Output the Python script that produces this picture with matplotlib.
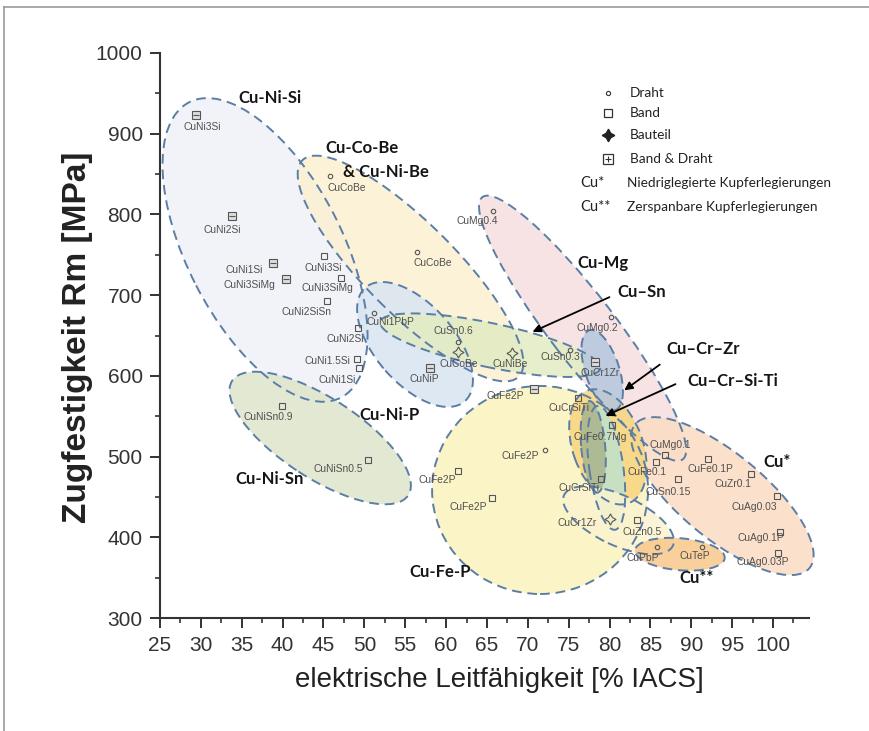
import matplotlib
matplotlib.use("Agg")
import matplotlib.pyplot as plt
from matplotlib.patches import Ellipse
from matplotlib.lines import Line2D
from matplotlib.transforms import ScaledTranslation
import numpy as np

# --- alloy data: conductivity [% IACS], tensile strength [MPa], product form ---
alloys = ["CuNi3Si", "CuNi2Si", "CuNi1Si", "CuNi3SiMg", "CuNi3Si", "CuNi3SiMg",
          "CuNi2SiSn", "CuNi2Si", "CuNi1.5Si", "CuNi1Si", "CuNiSn0.9", "CuNiSn0.5",
          "CuCoBe", "CuCoBe", "CuNi1PbP", "CuNiP", "CuSn0.6", "CuCoBe", "CuNiBe",
          "CuMg0.4", "CuSn0.3", "CuCr1Zr", "CuMg0.2", "CuFe2P", "CuCrSiTi",
          "CuFe0.7Mg", "CuFe2P", "CuFe2P", "CuFe2P", "CuCrSiTi", "CuCr1Zr",
          "CuZn0.5", "CuFe0.1", "CuMg0.1", "CuSn0.15", "CuFe0.1P", "CuZr0.1",
          "CuAg0.03", "CuAg0.1P", "CuAg0.03P", "CuPbP", "CuTeP"]
conductivity = [29.4, 33.8, 38.8, 40.4, 45.1, 47.2,
                45.4, 49.2, 49.1, 49.4, 39.9, 50.5,
                45.8, 56.5, 51.2, 58.0, 61.4, 61.5, 68.1,
                65.8, 75.2, 78.2, 80.2, 70.7, 76.2,
                80.3, 72.1, 61.5, 65.6, 78.9, 80.0,
                83.4, 85.7, 86.8, 88.4, 92.0, 97.3,
                100.5, 100.8, 100.6, 85.8, 91.3]
strength = [923, 798, 740, 720, 749, 721,
            693, 659, 621, 610, 563, 496,
            848, 753, 678, 610, 642, 630, 628,
            804, 632, 617, 673, 584, 573,
            539, 508, 482, 449, 472, 423,
            421, 493, 502, 472, 497, 478,
            451, 407, 381, 388, 388]
# D = Draht, B = Band, S = Bauteil, BD = Band & Draht
form = ["BD", "BD", "BD", "BD", "B", "B",
        "B", "B", "B", "B", "B", "B",
        "D", "D", "D", "BD", "D", "S", "S",
        "D", "D", "BD", "D", "BD", "B",
        "B", "D", "B", "B", "B", "S",
        "B", "B", "B", "B", "B", "B",
        "B", "B", "B", "D", "D"]

# label placement relative to the marker (pixels, y downwards)
label_offset = [(6, 12), (-10, 14), (-29, 7), (-36, 6), (-1, 12), (-14, 10),
                (-20, 11), (-13, 11), (-30, 2), (-22, 12), (-14, 11), (-30, 9),
                (17, 12), (15, 11), (16, 9), (-5, 11), (-4, -11), (0, 12), (-2, 11),
                (-16, 10), (-10, 7), (5, 11), (-14, 11), (-28, 7), (-9, 10),
                (-12, 12), (-25, 6), (-21, 9), (-24, 9), (-22, 9), (-32, 4),
                (5, 12), (-9, 10), (5, -10), (-10, 13), (3, 10), (-18, 10),
                (-23, 11), (-19, 6), (-15, 9), (-14, 11), (-7, 9)]

# alloy family regions: centre (x, y) in data units, size in pixels, angle in degrees
regions = [
    # name,        cx,    cy,    w,   h,  angle,  fill
    ("Cu-Ni-Si",   37.85, 756.0, 332, 155, -62.8, "#eff1f7"),
    ("Cu-Co-Be",   55.65, 733.0, 306,  91, -45,   "#fcf0d2"),
    ("Cu-Ni-P",    56.2,  638.9, 151,  79, -48.8, "#d9e4f2"),
    ("Cu-Ni-Sn",   44.6,  523.0, 210,  80, -33,   "#dde4ca"),
    ("Cu-Mg",      76.7,  659.0, 330,  66, -52.6, "#f6dede"),
    ("Cu-Fe-P",    71.5,  458.6, 216, 208,  0,    "#fbf3be"),
    ("Cu*",        93.8,  451.0, 226,  85, -39.5, "#fbdcc3"),
    ("Cu-Sn",      65.4,  638.0, 225,  44, -12,   "#e2ecc2"),
    ("Cu-Fe",      79.8,  512.0, 120,  70, -70,   "#f8d57e"),
    ("Cu-Cr-Si-Ti", 79.6, 486.0, 125,  34, -82,   "#bfe2cc"),
    ("Cu-Fe-Ti",   78.0,  512.0,  92,  24, -85,   "#a9b48b"),
    ("Cu-Cr-Zr",   79.1,  607.0,  84,  34, -72,   "#b4c6de"),
    ("Cu-Zn",      81.1,  421.0, 120,  50, -25,   "#fbf3cf"),
    ("Cu**",       88.6,  379.0,  90,  32,  -5,   "#f8c88a"),
]

# family names written in the plot (pixel positions)
family_labels = [("Cu-Ni-Si", 270, 98), ("Cu-Co-Be", 362, 148), ("& Cu-Ni-Be", 386, 172),
                 ("Cu-Ni-P", 390, 415), ("Cu-Ni-Sn", 270, 479), ("Cu-Mg", 603, 263),
                 ("Cu\u2013Sn", 642, 292), ("Cu\u2013Cr\u2013Zr", 703, 349),
                 ("Cu\u2013Cr\u2013Si-Ti", 733, 381), ("Cu-Fe-P", 440, 572),
                 ("Cu*", 777, 462), ("Cu**", 697, 578)]
arrows = [((612, 296), (530, 333)), ((662, 363), (622, 392)), ((678, 383), (603, 417))]

W, H, DPI = 870, 731, 100
fig = plt.figure(figsize=(W / DPI, H / DPI), dpi=DPI)
ax = fig.add_axes([160 / W, 1 - 618 / H, (809 - 160) / W, (618 - 53) / H])
ax.set_xlim(25, 104.4)
ax.set_ylim(300, 1000)

def px2data(px, py):
    x = 25 + (px - 160) / (809 - 160) * (104.4 - 25)
    y = 300 + (618 - py) / (618 - 53) * 700
    return x, y

edge = "#5b7ea6"
for name, cx, cy, w, h, ang, col in regions:
    tr = fig.dpi_scale_trans + ScaledTranslation(cx, cy, ax.transData)
    e = Ellipse((0, 0), w / DPI, h / DPI, angle=ang, transform=tr,
                facecolor=col, edgecolor="none", alpha=0.85, zorder=1, clip_on=False)
    ax.add_patch(e)
for name, cx, cy, w, h, ang, col in regions:
    tr = fig.dpi_scale_trans + ScaledTranslation(cx, cy, ax.transData)
    e = Ellipse((0, 0), w / DPI, h / DPI, angle=ang, transform=tr, clip_on=False,
                facecolor="none", edgecolor=edge, lw=1.4, ls=(0, (5, 3)), zorder=2)
    ax.add_patch(e)

mk = "#555555"
for x, y, f, name, (dx, dy) in zip(conductivity, strength, form, alloys, label_offset):
    if f == "D":
        ax.plot(x, y, "o", ms=3.2, mfc="none", mec=mk, mew=0.8, zorder=4)
    elif f == "B":
        ax.plot(x, y, "s", ms=5, mfc="none", mec=mk, mew=0.8, zorder=4)
    elif f == "S":
        ax.plot(x, y, marker=(4, 1, 0), ms=8, mfc="none", mec=mk, mew=0.8, zorder=4)
    else:
        ax.plot(x, y, "s", ms=6, mfc="#dddddd", mec=mk, mew=0.8, zorder=4)
        ax.plot(x, y, "_", ms=4, mec=mk, mew=0.8, zorder=4)
    ax.annotate(name, (x, y), xytext=(dx * 0.72, -dy * 0.72), textcoords="offset points",
                ha="center", va="center", fontsize=7.4, color="#505050",
                family="Liberation Sans", zorder=5)

for txt, px, py in family_labels:
    x, y = px2data(px, py)
    ax.text(x, y, txt, ha="center", va="center", fontsize=12, fontweight="bold",
            family="Lato", color="#151515", zorder=6)

for (t, h) in arrows:
    ax.annotate("", xy=px2data(*h), xytext=px2data(*t),
                arrowprops=dict(arrowstyle="-|>", color="black", lw=1.3,
                                mutation_scale=12), zorder=6)

# legend for product forms
leg_rows = [("Draht", 93), ("Band", 113), ("Bauteil", 135), ("Band & Draht", 159)]
for (txt, py), f in zip(leg_rows, ["D", "B", "S", "BD"]):
    x, y = px2data(608, py)
    if f == "D":
        ax.plot(x, y, "o", ms=3, mfc="none", mec="#333", mew=0.8)
    elif f == "B":
        ax.plot(x, y, "s", ms=5.5, mfc="none", mec="#333", mew=0.9)
    elif f == "S":
        ax.plot(x, y, marker=(4, 1, 0), ms=9, mfc="#222", mec="#222")
    else:
        ax.plot(x, y, "s", ms=7, mfc="none", mec="#333", mew=0.9)
        ax.plot(x, y, "+", ms=4, mec="#333", mew=0.8)
    ax.text(*px2data(630, py), txt, ha="left", va="center", fontsize=9.8,
            family="Lato", color="#222")
for sym, txt, py in [("Cu*", "Niedriglegierte Kupferlegierungen", 183),
                     ("Cu**", "Zerspanbare Kupferlegierungen", 207)]:
    ax.text(*px2data(580, py), sym, ha="left", va="center", fontsize=10.5,
            family="Lato", color="#222")
    ax.text(*px2data(627, py), txt, ha="left", va="center", fontsize=9.8,
            family="Lato", color="#222")

ax.spines["top"].set_visible(False)
ax.spines["right"].set_visible(False)
for s in ("left", "bottom"):
    ax.spines[s].set_linewidth(1.5)
    ax.spines[s].set_color("#333")
ax.set_xticks(np.arange(25, 101, 5))
ax.set_xticks(np.arange(27.5, 104, 5), minor=True)
ax.set_yticks(np.arange(300, 1001, 100))
ax.set_yticks(np.arange(350, 1000, 100), minor=True)
ax.tick_params(which="major", length=7, width=1.4, color="#333", labelsize=15,
               labelcolor="#333")
ax.tick_params(axis="y", which="major", pad=5.5)
ax.tick_params(axis="x", which="major", pad=6)
ax.tick_params(which="minor", length=3.5, width=1.2, color="#333")
for lab in ax.get_xticklabels() + ax.get_yticklabels():
    lab.set_family("Liberation Sans")
ax.set_xlabel("elektrische Leitfähigkeit [% IACS]", fontsize=20, family="Liberation Sans",
              color="#222")
ax.xaxis.set_label_coords((499 - 160) / 649, -(680 - 618) / 565)
ax.set_ylabel("Zugfestigkeit Rm [MPa]", fontsize=24, family="Liberation Sans",
              fontweight="bold", color="#222")
ax.yaxis.set_label_coords(-(160 - 78) / 649, (618 - 337) / 565)
ax.xaxis.label.set_va("center")
ax.yaxis.label.set_va("center")

# page frame
fig.add_artist(Line2D([4 / W, 1], [1 - 7 / H, 1 - 7 / H], color="#999", lw=1.2))
fig.add_artist(Line2D([4 / W, 4 / W], [0, 1 - 7 / H], color="#999", lw=1.2))

fig.savefig("out.png", dpi=DPI)
